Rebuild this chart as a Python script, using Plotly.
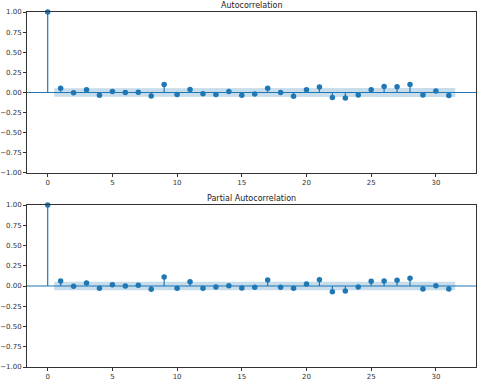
import plotly.graph_objects as go

lags = list(range(32))

acf_vals = [1.0, 0.054, -0.004, 0.033, -0.033, 0.012, 0.0, 0.004, -0.042, 0.10,
            -0.025, 0.038, -0.017, -0.025, 0.012, -0.033, -0.02, 0.054, 0.0, -0.046,
            0.033, 0.067, -0.062, -0.067, -0.03, 0.033, 0.075, 0.071, 0.10, -0.03,
            0.02, -0.037]

pacf_vals = [1.0, 0.062, -0.004, 0.037, -0.029, 0.016, 0.0, 0.008, -0.041, 0.11,
             -0.029, 0.054, -0.029, -0.012, 0.004, -0.025, -0.016, 0.074, -0.016, -0.029,
             0.025, 0.078, -0.07, -0.062, -0.012, 0.058, 0.062, 0.07, 0.095, -0.037,
             0.004, -0.037]

# confidence half-widths for lags 1..31
acf_band = [0.053, 0.053, 0.053, 0.053, 0.053, 0.053, 0.053, 0.054, 0.054, 0.054,
            0.054, 0.054, 0.054, 0.054, 0.054, 0.054, 0.054, 0.055, 0.055, 0.055,
            0.055, 0.055, 0.055, 0.055, 0.055, 0.055, 0.056, 0.056, 0.056, 0.056,
            0.056]
pacf_band = [0.053] * 31

titles = ["Autocorrelation", "Partial Autocorrelation"]
y_ticks = [-1.0, -0.75, -0.5, -0.25, 0.0, 0.25, 0.5, 0.75, 1.0]

BLUE = "#1f77b4"
FONT = "DejaVu Sans"

fig = go.Figure()

domains = [[0.5465, 1.0], [0.0, 0.4563]]
series = [(acf_vals, acf_band), (pacf_vals, pacf_band)]

for i, (vals, band) in enumerate(series):
    xa = "x" if i == 0 else "x2"
    ya = "y" if i == 0 else "y2"

    bx = [float(v) for v in lags[1:]]
    bx[0] -= 0.5
    bx[-1] += 0.5
    fig.add_trace(go.Scatter(x=bx + bx[::-1], y=band + [-b for b in band[::-1]],
                             fill="toself", fillcolor="rgba(31,119,180,0.25)",
                             line=dict(width=0), mode="lines", hoverinfo="skip",
                             xaxis=xa, yaxis=ya))

    sx, sy = [], []
    for lag, v in zip(lags, vals):
        sx += [lag, lag, None]
        sy += [0, v, None]
    fig.add_trace(go.Scatter(x=sx, y=sy, mode="lines", line=dict(color=BLUE, width=1.2),
                             xaxis=xa, yaxis=ya))
    fig.add_trace(go.Scatter(x=lags, y=vals, mode="markers",
                             marker=dict(color=BLUE, size=5.5), cliponaxis=False,
                             xaxis=xa, yaxis=ya))

    fig.add_shape(type="line", xref=f"{xa} domain", yref=ya, x0=0, x1=1, y0=0, y1=0,
                  line=dict(color=BLUE, width=1.2))

    fig.add_annotation(text=titles[i], xref=f"{xa} domain", yref="paper",
                       x=0.5, y=domains[i][1], yanchor="bottom", yshift=0,
                       showarrow=False, font=dict(family=FONT, size=8, color="#222"))

axis_common = dict(showgrid=False, zeroline=False, showline=True, linecolor="#333",
                   linewidth=1, mirror=True, ticks="outside", ticklen=3,
                   tickcolor="#333", automargin=False,
                   tickfont=dict(family=FONT, size=7, color="#333"))

fig.update_layout(
    xaxis=dict(domain=[0, 1], anchor="y", range=[-1.6, 33.1], tickvals=[0, 5, 10, 15, 20, 25, 30], **axis_common),
    yaxis=dict(domain=domains[0], anchor="x", range=[-1, 1], tickvals=y_ticks, tickformat=".2f", **axis_common),
    xaxis2=dict(domain=[0, 1], anchor="y2", range=[-1.6, 33.1], tickvals=[0, 5, 10, 15, 20, 25, 30], **axis_common),
    yaxis2=dict(domain=domains[1], anchor="x2", range=[-1, 1], tickvals=y_ticks, tickformat=".2f", **axis_common),
    width=480,
    height=381,
    margin=dict(l=27, r=4, t=12, b=14, autoexpand=False),
    paper_bgcolor="white",
    plot_bgcolor="white",
    showlegend=False,
)

# drop the browser's default body margin so the figure sits at the page corner
fig.write_html("out.html", config={"displayModeBar": False},
               post_script="document.body.style.margin='0px';")
